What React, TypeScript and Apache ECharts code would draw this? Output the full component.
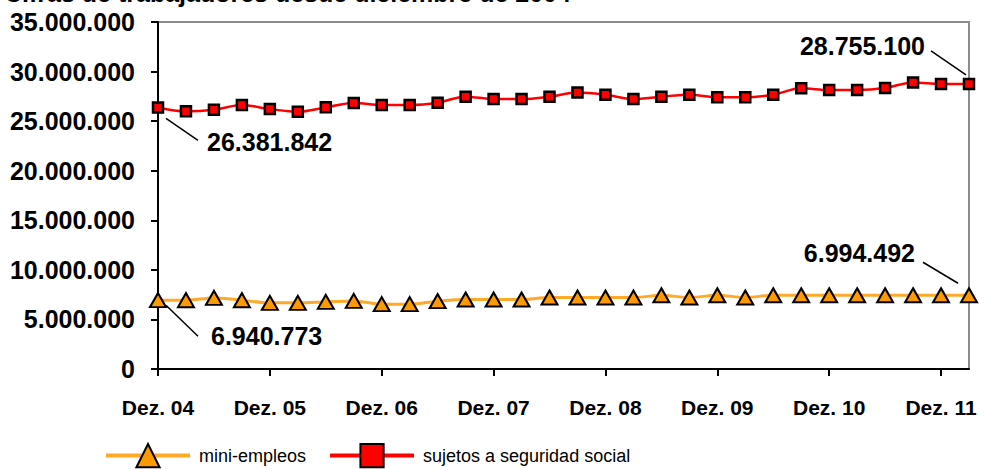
import React, { useEffect, useRef } from "react";
import * as echarts from "echarts";

const titleText = "Cifras de trabajadores desde diciembre de 2004";

const categories = [
  "Dez. 04", "Mär. 05", "Jun. 05", "Sep. 05",
  "Dez. 05", "Mär. 06", "Jun. 06", "Sep. 06",
  "Dez. 06", "Mär. 07", "Jun. 07", "Sep. 07",
  "Dez. 07", "Mär. 08", "Jun. 08", "Sep. 08",
  "Dez. 08", "Mär. 09", "Jun. 09", "Sep. 09",
  "Dez. 09", "Mär. 10", "Jun. 10", "Sep. 10",
  "Dez. 10", "Mär. 11", "Jun. 11", "Sep. 11",
  "Dez. 11", "Mär. 12",
];

const miniEmpleos = [
  6940773, 6940000, 7170000, 6940000,
  6670000, 6670000, 6770000, 6870000,
  6540000, 6540000, 6840000, 7010000,
  7010000, 7010000, 7210000, 7210000,
  7210000, 7210000, 7440000, 7210000,
  7440000, 7210000, 7440000, 7440000,
  7440000, 7440000, 7440000, 7440000,
  7440000, 7440000,
];

const seguridadSocial = [
  26381842, 25990000, 26150000, 26630000,
  26220000, 25950000, 26390000, 26830000,
  26630000, 26630000, 26860000, 27470000,
  27230000, 27230000, 27470000, 27900000,
  27670000, 27230000, 27470000, 27670000,
  27400000, 27400000, 27670000, 28310000,
  28140000, 28140000, 28340000, 28910000,
  28750000, 28755100,
];

const seriesNames = ["mini-empleos", "sujetos a seguridad social"];
// annotation texts for first/last points
const firstLabels = ["6.940.773", "26.381.842"];
const lastLabels = ["6.994.492", "28.755.100"];

const fmt = (v: number) => String(Math.round(v)).replace(/\B(?=(\d{3})+(?!\d))/g, ".");

const SANS = "'Liberation Sans', Arial, sans-serif";

export default function App() {
  const ref = useRef<HTMLDivElement>(null);
  useEffect(() => {
    if (!ref.current) return;
    const chart = echarts.init(ref.current, null, { renderer: "svg" });
    chart.setOption({
      animation: false,
      backgroundColor: "#ffffff",
      title: {
        text: titleText,
        left: 4,
        top: -20,
        padding: 0,
        textStyle: { fontFamily: SANS, fontWeight: "bold", fontSize: 25, color: "#000" },
      },
      grid: {
        left: 158, top: 22, right: 17, bottom: 100,
        show: true, borderColor: "#8c8c8c", borderWidth: 2, backgroundColor: "transparent",
      },
      legend: {
        left: 104, top: 443, padding: 0, itemWidth: 84, itemHeight: 29, itemGap: 22,
        textStyle: { fontFamily: SANS, fontSize: 18, color: "#000", padding: [0, 0, 0, 4] },
        lineStyle: { width: 4 },
        data: seriesNames,
      },
      xAxis: {
        type: "category",
        data: categories,
        boundaryGap: false,
        axisLine: { lineStyle: { color: "#000", width: 2 } },
        axisTick: { show: true, interval: (i: number) => i % 4 === 0, length: 7, lineStyle: { color: "#000", width: 2 } },
        axisLabel: {
          interval: (i: number) => i % 4 === 0,
          margin: 28,
          fontFamily: SANS, fontWeight: "bold", fontSize: 21, color: "#000",
        },
        splitLine: { show: false },
      },
      yAxis: {
        type: "value",
        min: 0, max: 35000000, interval: 5000000,
        axisLine: { show: true, lineStyle: { color: "#000", width: 2 } },
        axisTick: { show: true, length: 7, lineStyle: { color: "#000", width: 2 } },
        axisLabel: {
          margin: 23, formatter: (v: number) => fmt(v),
          fontFamily: SANS, fontWeight: "bold", fontSize: 25, color: "#000",
        },
        splitLine: { show: false },
      },
      series: [
        {
          name: seriesNames[0], type: "line", data: miniEmpleos, smooth: 0.35,
          symbol: "triangle", symbolSize: [16, 14],
          lineStyle: { color: "#ffa928", width: 3 },
          itemStyle: { color: "#ff9900", borderColor: "#000", borderWidth: 2 },
          z: 3,
        },
        {
          name: seriesNames[1], type: "line", data: seguridadSocial, smooth: 0.35,
          symbol: "rect", symbolSize: 10,
          lineStyle: { color: "#ff0000", width: 2.5 },
          itemStyle: { color: "#ff0000", borderColor: "#000", borderWidth: 2.5 },
          z: 3,
        },
      ],
    });

    const data = [miniEmpleos, seguridadSocial];
    const last = categories.length - 1;
    const anno: any[] = [];
    const lineStyle = { stroke: "#000", lineWidth: 1.5 };
    const textFont = { fontFamily: SANS, fontWeight: "bold", fontSize: 25, fill: "#000" };
    // offsets: [lineStartDx, lineStartDy, lineEndDx, lineEndDy, textDx, textDy]
    const firstOff = [
      [8, 5, 40, 36, 53, 36],
      [8, 11, 40, 33, 49, 35],
    ];
    const lastOff = [
      [-11, -12, -46, -33, -54, -42],
      [-3, -9, -38, -33, -44, -38],
    ];
    for (let s = 0; s < 2; s++) {
      const p0 = chart.convertToPixel({ seriesIndex: s }, [0, data[s][0]]) as number[];
      const o = firstOff[s];
      anno.push({ type: "line", shape: { x1: p0[0] + o[0], y1: p0[1] + o[1], x2: p0[0] + o[2], y2: p0[1] + o[3] }, style: lineStyle, z: 10 });
      anno.push({ type: "text", x: p0[0] + o[4], y: p0[1] + o[5], style: { ...textFont, text: firstLabels[s], textAlign: "left", textVerticalAlign: "middle" }, z: 10 });
      const p1 = chart.convertToPixel({ seriesIndex: s }, [last, data[s][last]]) as number[];
      const q = lastOff[s];
      anno.push({ type: "line", shape: { x1: p1[0] + q[0], y1: p1[1] + q[1], x2: p1[0] + q[2], y2: p1[1] + q[3] }, style: lineStyle, z: 10 });
      anno.push({ type: "text", x: p1[0] + q[4], y: p1[1] + q[5], style: { ...textFont, text: lastLabels[s], textAlign: "right", textVerticalAlign: "middle" }, z: 10 });
    }
    chart.setOption({ graphic: anno });
    return () => chart.dispose();
  }, []);
  return <div ref={ref} style={{ position: "fixed", left: 0, top: 0, width: 986, height: 469 }} />;
}
